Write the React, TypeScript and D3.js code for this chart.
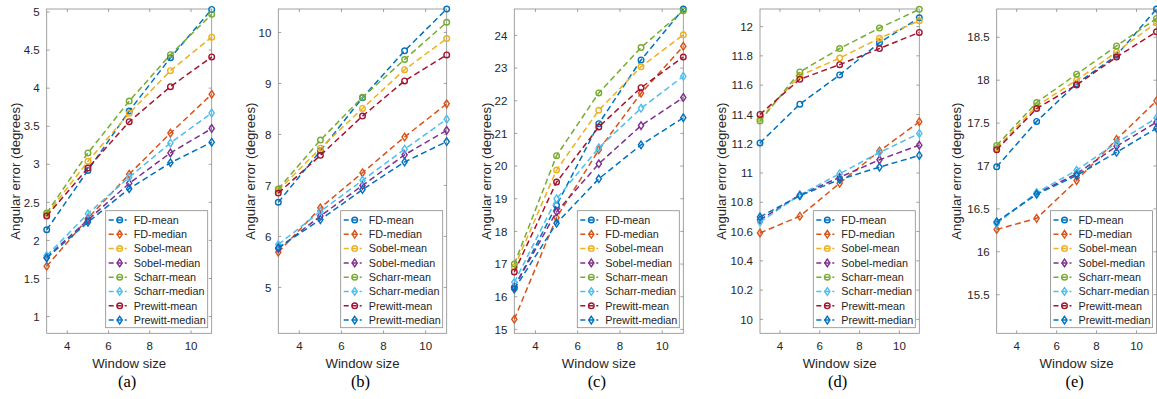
import * as d3 from "d3";

const windowSizes = [3, 5, 7, 9, 11];
const seriesNames = [
  "FD-mean", "FD-median", "Sobel-mean", "Sobel-median",
  "Scharr-mean", "Scharr-median", "Prewitt-mean", "Prewitt-median",
];
const seriesColors = [
  "#0072BD", "#D95319", "#EDB120", "#7E2F8E",
  "#77AC30", "#4DBEEE", "#A2142F", "#0072BD",
];

// one row per series, in seriesNames order
const panelA = [
  [2.14, 2.92, 3.70, 4.40, 5.035],
  [1.66, 2.29, 2.87, 3.41, 3.92],
  [2.34, 3.04, 3.67, 4.23, 4.67],
  [1.78, 2.27, 2.75, 3.15, 3.47],
  [2.36, 3.15, 3.83, 4.44, 4.97],
  [1.80, 2.35, 2.83, 3.28, 3.675],
  [2.32, 2.95, 3.56, 4.02, 4.41],
  [1.77, 2.24, 2.68, 3.02, 3.29],
];
const panelB = [
  [6.67, 7.68, 8.72, 9.64, 10.46],
  [5.69, 6.56, 7.25, 7.95, 8.60],
  [6.90, 7.73, 8.51, 9.27, 9.88],
  [5.76, 6.40, 7.00, 7.60, 8.08],
  [6.93, 7.89, 8.73, 9.47, 10.20],
  [5.84, 6.49, 7.10, 7.71, 8.30],
  [6.85, 7.59, 8.36, 9.05, 9.56],
  [5.78, 6.33, 6.92, 7.46, 7.86],
];
const panelC = [
  [16.28, 18.8, 21.30, 23.25, 24.81],
  [15.31, 18.42, 20.50, 22.23, 23.67],
  [16.9, 19.88, 21.71, 23.04, 24.02],
  [16.3, 18.6, 20.07, 21.24, 22.10],
  [17.0, 20.32, 22.24, 23.63, 24.76],
  [16.44, 19.0, 20.56, 21.77, 22.75],
  [16.76, 19.51, 21.2, 22.40, 23.34],
  [16.23, 18.25, 19.61, 20.65, 21.48],
];
const panelD = [
  [11.205, 11.47, 11.67, 11.89, 12.06],
  [10.59, 10.705, 10.93, 11.15, 11.35],
  [11.37, 11.665, 11.785, 11.92, 12.04],
  [10.68, 10.85, 10.97, 11.09, 11.19],
  [11.355, 11.69, 11.85, 11.99, 12.118],
  [10.665, 10.85, 10.995, 11.14, 11.27],
  [11.40, 11.64, 11.74, 11.85, 11.96],
  [10.70, 10.845, 10.955, 11.04, 11.12],
];
const panelE = [
  [16.99, 17.52, 17.96, 18.29, 18.83],
  [16.26, 16.39, 16.83, 17.31, 17.76],
  [17.21, 17.70, 18.00, 18.33, 18.67],
  [16.34, 16.68, 16.91, 17.23, 17.51],
  [17.24, 17.74, 18.07, 18.40, 18.72],
  [16.33, 16.69, 16.95, 17.27, 17.56],
  [17.19, 17.67, 17.945, 18.27, 18.565],
  [16.35, 16.67, 16.89, 17.16, 17.44],
];

const xTicks = [4, 6, 8, 10];
const yTicksA = [1, 1.5, 2, 2.5, 3, 3.5, 4, 4.5, 5];
const yTicksB = [5, 6, 7, 8, 9, 10];
const yTicksC = [15, 16, 17, 18, 19, 20, 21, 22, 23, 24];
const yTicksD = [10, 10.2, 10.4, 10.6, 10.8, 11, 11.2, 11.4, 11.6, 11.8, 12];
const yTicksE = [15.5, 16, 16.5, 17, 17.5, 18, 18.5];

const panels = [
  { label: "(a)", data: panelA, domain: [0.78, 5.04], ticks: yTicksA, left: 46.7, right: 211.7, ylabX: 19.5 },
  { label: "(b)", data: panelB, domain: [4.1, 10.46], ticks: yTicksB, left: 278.3, right: 446.7, ylabX: 254.5 },
  { label: "(c)", data: panelC, domain: [14.88, 24.81], ticks: yTicksC, left: 514.3, right: 683.3, ylabX: 490.5 },
  { label: "(d)", data: panelD, domain: [9.905, 12.12], ticks: yTicksD, left: 760, right: 919.3, ylabX: 726 },
  { label: "(e)", data: panelE, domain: [15.05, 18.83], ticks: yTicksE, left: 996.7, right: 1156.5, ylabX: 961 },
];

const top = 9;
const bottom = 333.3;
const font = "'Liberation Sans', Arial, Helvetica, sans-serif";
const axisColor = "#8a8a8a";
const textColor = "#262626";

function Marker({ x, y, i, color }: { x: number; y: number; i: number; color: string }) {
  if (i % 2 === 0) {
    return <circle cx={x} cy={y} r={2.8} fill="none" stroke={color} strokeWidth={1.4} />;
  }
  const w = 2.6, h = 3.8;
  return (
    <path
      d={`M${x},${y - h}L${x + w},${y}L${x},${y + h}L${x - w},${y}Z`}
      fill="none"
      stroke={color}
      strokeWidth={1.4}
    />
  );
}

function Panel({ p }: { p: (typeof panels)[number] }) {
  const x = d3.scaleLinear().domain([3, 11]).range([p.left, p.right]);
  const y = d3.scaleLinear().domain(p.domain).range([bottom, top]);
  const line = d3
    .line<number>()
    .x((_, k) => x(windowSizes[k]))
    .y((v) => y(v));
  const fmt = (v: number) => d3.format("~g")(v);
  const cx = (p.left + p.right) / 2;

  const legW = 102;
  const legX = p.right - 4 - legW;
  const legY = 210.7;
  const rowH = 14.3;

  return (
    <g>
      {/* ticks inside the box */}
      {xTicks.map((t) => (
        <g key={"xt" + t}>
          <line x1={x(t)} x2={x(t)} y1={bottom} y2={bottom - 3} stroke={axisColor} strokeWidth={0.8} />
          <line x1={x(t)} x2={x(t)} y1={top} y2={top + 3} stroke={axisColor} strokeWidth={0.8} />
          <text x={x(t)} y={349.5} textAnchor="middle" fontSize={11.5} fill={textColor} fontFamily={font}>
            {t}
          </text>
        </g>
      ))}
      {p.ticks.map((t) => (
        <g key={"yt" + t}>
          <line x1={p.left} x2={p.left + 3} y1={y(t)} y2={y(t)} stroke={axisColor} strokeWidth={0.8} />
          <line x1={p.right} x2={p.right - 3} y1={y(t)} y2={y(t)} stroke={axisColor} strokeWidth={0.8} />
          <text x={p.left - 7} y={y(t)} dy="0.36em" textAnchor="end" fontSize={11.5} fill={textColor} fontFamily={font}>
            {fmt(t)}
          </text>
        </g>
      ))}
      <rect x={p.left} y={top} width={p.right - p.left} height={bottom - top} fill="none" stroke={axisColor} strokeWidth={0.8} />

      {p.data.map((vals, i) => (
        <g key={seriesNames[i]}>
          <path d={line(vals) ?? ""} fill="none" stroke={seriesColors[i]} strokeWidth={1.5} strokeDasharray="6,3.5" />
          {vals.map((v, k) => (
            <Marker key={k} x={x(windowSizes[k])} y={y(v)} i={i} color={seriesColors[i]} />
          ))}
        </g>
      ))}

      {/* legend */}
      <rect x={legX} y={legY} width={legW} height={117} fill="white" stroke={axisColor} strokeWidth={0.8} />
      {seriesNames.map((name, i) => {
        const ry = legY + 9.3 + i * rowH;
        return (
          <g key={"lg" + name}>
            <line x1={legX + 3} x2={legX + 21} y1={ry} y2={ry} stroke={seriesColors[i]} strokeWidth={1.5} strokeDasharray="5,3" />
            <Marker x={legX + 14} y={ry} i={i} color={seriesColors[i]} />
            <text x={legX + 28} y={ry} dy="0.36em" fontSize={10.8} fill={textColor} fontFamily={font}>
              {name}
            </text>
          </g>
        );
      })}

      <text x={cx} y={368} textAnchor="middle" fontSize={13.2} fill={textColor} fontFamily={font}>
        Window size
      </text>
      <text
        transform={`translate(${p.ylabX},${(top + bottom) / 2}) rotate(-90)`}
        textAnchor="middle"
        fontSize={13.2}
        fill={textColor}
        fontFamily={font}
      >
        Angular error (degrees)
      </text>
      <text x={cx - 2} y={387} textAnchor="middle" fontSize={16.5} fill="#000" fontFamily="'Liberation Serif', 'Times New Roman', serif">
        {p.label}
      </text>
    </g>
  );
}

export default function App() {
  return (
    <svg
      width={1157}
      height={399}
      style={{ position: "absolute", left: 0, top: 0, background: "white" }}
    >
      {panels.map((p) => (
        <Panel key={p.label} p={p} />
      ))}
    </svg>
  );
}
